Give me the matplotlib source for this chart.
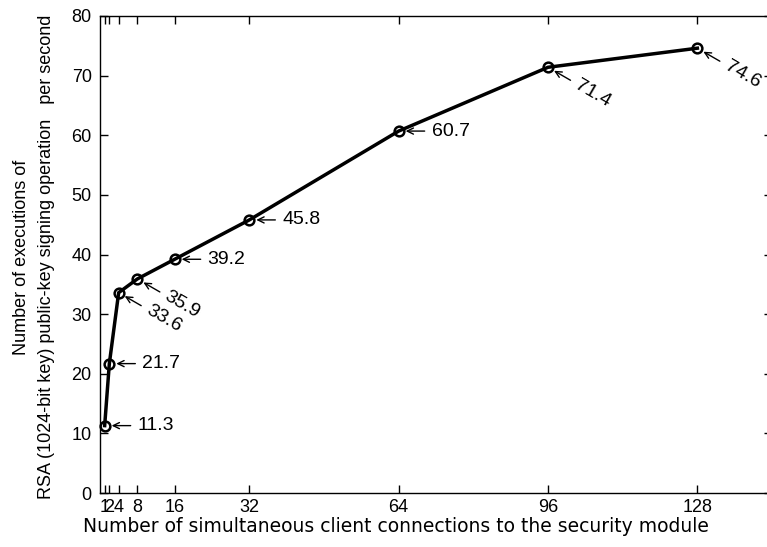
import numpy as np
import matplotlib
matplotlib.use("Agg")
import matplotlib.pyplot as plt

# Data
connections = [1, 2, 4, 8, 16, 32, 64, 96, 128]
signs_per_sec = [11.3, 21.7, 33.6, 35.9, 39.2, 45.8, 60.7, 71.4, 74.6]
label_angles = [0, 0, -30, -30, 0, 0, 0, -30, -30]
x_ticks = [1, 2, 4, 8, 16, 32, 64, 96, 128]
y_ticks = [0, 10, 20, 30, 40, 50, 60, 70, 80]

plt.rcParams["font.family"] = ["Liberation Sans", "DejaVu Sans"]

W, H = 767, 547
fig = plt.figure(figsize=(W / 100, H / 100), dpi=100)
# axes run past the right edge of the picture, as in the original crop
left, right, top, bottom = 100, 772, 16, 493
ax = fig.add_axes([left / W, 1 - bottom / H, (right - left) / W, (bottom - top) / H])

ax.plot(connections, signs_per_sec, color="black", linewidth=2.5,
        marker="o", markersize=7, markerfacecolor="none",
        markeredgecolor="black", markeredgewidth=1.8, clip_on=False)

px = 0.72  # points per pixel at 100 dpi
for x, y, ang in zip(connections, signs_per_sec, label_angles):
    c, s = np.cos(np.radians(ang)), np.sin(np.radians(ang))
    # arrow pointing back at the marker, then the value
    ax.annotate("", xy=(x, y), xycoords="data",
                xytext=(26 * px * c, 26 * px * s), textcoords="offset points",
                arrowprops=dict(arrowstyle="->,head_length=0.45,head_width=0.22",
                                lw=1, color="black", shrinkA=0, shrinkB=5),
                annotation_clip=False)
    ax.annotate(f"{y:.1f}", xy=(x, y), xycoords="data",
                xytext=(33 * px * c, 33 * px * s), textcoords="offset points",
                fontsize=14, rotation=ang, rotation_mode="anchor",
                ha="left", va="center", annotation_clip=False)

ax.set_xlim(0, 144)
ax.set_ylim(0, 80)
ax.set_xticks(x_ticks)
ax.set_xticklabels([str(t) for t in x_ticks])
ax.set_yticks(y_ticks)
ax.tick_params(direction="in", top=True, right=True, labelsize=13,
               length=6, width=1, pad=6)
ax.tick_params(axis="x", pad=4)
for sp in ax.spines.values():
    sp.set_linewidth(1)

ax.set_xlabel("Number of simultaneous client connections to the security module",
              fontsize=13.5, family="DejaVu Sans")
ax.xaxis.set_label_coords((396 - left) / (right - left), (bottom - 526) / (bottom - top))
ax.xaxis.label.set_va("center")

ax.set_ylabel("Number of executions of\n"
              "RSA (1024-bit key) public-key signing operation   per second",
              fontsize=13, linespacing=1.55)
ax.yaxis.set_label_coords((34 - left) / (right - left), (bottom - 257) / (bottom - top))
ax.yaxis.label.set_va("center")

fig.savefig("out.png", dpi=100)
